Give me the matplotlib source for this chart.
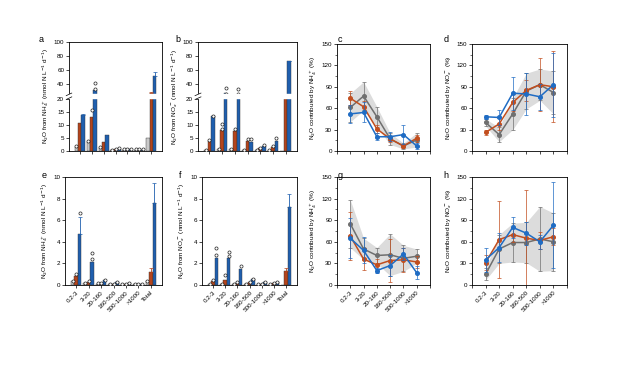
import numpy as np
import matplotlib

matplotlib.use("Agg")
import matplotlib.pyplot as plt

plt.rcParams["font.family"] = ["Liberation Sans", "DejaVu Sans"]
plt.rcParams["font.size"] = 5

# ---- data ----
size_bars = ["0.2-3", "3-20", "20-160", "160-500", "500-1000", ">1000", "Total"]
size_lines = ["0.2-3", "3-20", "20-160", "160-500", "500-1000", ">1000"]

# bar panels: gray, orange, blue series
a_gray = [1.6, 3.5, 1.3, 0.3, 0.5, 0.5, 5.0]
a_orange = [10.5, 12.8, 3.5, 0.8, 0.8, 0.6, 28.0]
a_blue = [13.8, 32.0, 6.2, 0.9, 0.6, 0.5, 52.5]
a_err = {(1, 6): 1.5, (2, 6): 5.5, (2, 0): 0.4}
a_dots = [(0, 0, 1.8), (1, 0, 3.8), (1, 1, 15.7), (1, 2, 42), (1, 2, 33), (2, 0, 1.5),
          (3, 0, 0.5), (3, 1, 0.9), (3, 2, 1.0), (4, 0, 0.6), (4, 1, 0.8), (4, 2, 0.7),
          (5, 0, 0.6), (5, 1, 0.6), (5, 2, 0.6)]

b_gray = [0.3, 0.8, 0.8, 0.5, 0.3, 0.5, 0.0]
b_orange = [4.0, 8.0, 7.5, 4.0, 1.0, 1.5, 25.0]
b_blue = [13.3, 28.5, 27.0, 3.5, 2.0, 3.8, 72.5]
b_err = {(2, 6): 1.0}
b_dots = [(0, 0, 0.4), (0, 1, 4.2), (0, 2, 13.4), (1, 0, 0.8), (1, 1, 10.2), (1, 1, 8.5),
          (1, 2, 35), (1, 2, 26), (2, 0, 0.8), (2, 1, 8.4), (2, 2, 34), (2, 2, 26),
          (3, 0, 0.5), (3, 1, 4.6), (3, 2, 4.4), (4, 0, 0.3), (4, 1, 1.2), (4, 2, 2.1),
          (5, 0, 0.4), (5, 1, 1.8), (5, 2, 5.0)]

e_gray = [0.35, 0.15, 0.1, 0.05, 0.05, 0.05, 0.4]
e_orange = [0.8, 0.3, 0.2, 0.1, 0.1, 0.05, 1.25]
e_blue = [4.7, 2.15, 0.45, 0.25, 0.2, 0.1, 7.6]
e_err = {(2, 0): 1.6, (1, 6): 0.3, (2, 6): 1.8}
e_dots = [(0, 0, 0.4), (0, 1, 1.05), (0, 2, 6.7), (1, 0, 0.2), (1, 1, 0.4), (1, 2, 2.4),
          (1, 2, 3.0), (2, 0, 0.15), (2, 1, 0.2), (2, 2, 0.45), (3, 0, 0.1), (3, 1, 0.12),
          (3, 2, 0.25), (4, 0, 0.1), (4, 1, 0.1), (4, 2, 0.2), (5, 0, 0.1), (5, 1, 0.1),
          (5, 2, 0.1), (6, 0, 0.4)]

f_gray = [0.05, 0.05, 0.05, 0.1, 0.05, 0.05, 0.0]
f_orange = [0.4, 0.5, 0.3, 0.25, 0.1, 0.15, 1.3]
f_blue = [2.5, 2.5, 1.5, 0.6, 0.3, 0.25, 7.2]
f_err = {(1, 6): 0.3, (2, 6): 1.2}
f_dots = [(0, 0, 0.1), (0, 1, 0.45), (0, 2, 2.8), (0, 2, 3.4), (1, 0, 0.1), (1, 1, 0.9),
          (1, 2, 2.7), (1, 2, 3.1), (2, 0, 0.1), (2, 1, 0.3), (2, 2, 1.8), (3, 0, 0.1),
          (3, 1, 0.3), (3, 2, 0.6), (4, 0, 0.1), (4, 1, 0.1), (4, 2, 0.3), (5, 0, 0.1),
          (5, 1, 0.15), (5, 2, 0.25)]

# line panels: mean and sd per series
c_gray, c_gray_sd = [61, 77, 48, 17, 7, 15.5], [20, 20, 14, 8, 4, 10]
c_orange, c_orange_sd = [74, 62, 31, 17, 7, 18], [10, 8, 6, 4, 3, 5]
c_blue, c_blue_sd = [52, 54, 20, 20, 23, 7], [13, 14, 5, 6, 13, 4]

d_gray, d_gray_sd = [40, 23, 52, 84, 93, 82], [5, 10, 22, 25, 22, 30]
d_orange, d_orange_sd = [26, 38, 68, 85, 93, 90], [4, 8, 12, 15, 37, 50]
d_blue, d_blue_sd = [48, 47, 81, 80, 76, 93], [3, 10, 23, 30, 18, 45]

g_gray, g_gray_sd = [85, 50, 41, 42, 37, 40], [33, 15, 11, 29, 18, 10]
g_orange, g_orange_sd = [68, 36, 28, 34, 35, 32], [33, 15, 8, 30, 17, 8]
g_blue, g_blue_sd = [65, 48, 20, 27, 43, 17], [28, 18, 4, 15, 8, 9]

h_gray, h_gray_sd = [15, 50, 59, 59, 64, 60], [8, 20, 27, 28, 45, 40]
h_orange, h_orange_sd = [31, 63, 70, 65, 62, 67], [10, 53, 10, 67, 12, 12]
h_blue, h_blue_sd = [35, 52, 80, 72, 60, 83], [17, 20, 15, 16, 10, 60]

BAR_COLORS = ["#c9c9c9", "#b4441c", "#1f5fae"]
LINE_COLORS = ["#6f6f6f", "#c24e1e", "#1f6cc4"]

W, H = 618, 370
fig = plt.figure(figsize=(W / 100, H / 100), dpi=100)


def px_axes(l, t, r, b):
    return fig.add_axes([l / W, 1 - b / H, (r - l) / W, (b - t) / H])


def style(ax):
    for s in ax.spines.values():
        s.set_linewidth(0.6)
    ax.tick_params(length=2, width=0.5, pad=1.5, labelsize=4.5)


# broken y axis: 0-20 stretched, 20-100 compressed
def fwd(y):
    y = np.asarray(y, dtype=float)
    return np.where(y <= 20, y, 20 + (y - 20) * 0.27)


def inv(y):
    y = np.asarray(y, dtype=float)
    return np.where(y <= 20, y, 20 + (y - 20) / 0.27)


def bar_panel(ax, series, errs, dots, ylabel, broken, show_labels):
    x = np.arange(len(size_bars))
    w = 0.28
    for k, vals in enumerate(series):
        xs = x + (k - 1) * w
        ax.bar(xs, vals, w, color=BAR_COLORS[k], edgecolor="#333333", linewidth=0.3, zorder=2)
    for (k, i), e in errs.items():
        ax.errorbar(i + (k - 1) * w, series[k][i], yerr=[[0], [e]], fmt="none",
                    ecolor=BAR_COLORS[k], elinewidth=0.6, capsize=1.2, capthick=0.5, zorder=3)
    for i, k, v in dots:
        ax.scatter(i + (k - 1) * w, v, s=5, facecolor="white", edgecolor="#222222",
                   linewidth=0.5, zorder=4)
    ax.set_xlim(-0.9, 6.9)
    ax.set_xticks(x)
    if show_labels:
        ax.set_xticklabels(size_bars, rotation=45, ha="right", rotation_mode="anchor")
    else:
        ax.set_xticklabels([])
    if broken:
        ax.set_yscale("function", functions=(fwd, inv))
        ax.set_ylim(0, 100)
        ax.set_yticks([0, 5, 10, 15, 20, 40, 60, 80, 100])
        ax.axhspan(20.6, 26, color="white", zorder=5)
        top = float(fwd(100))
        for v in (20.6, 26):
            yy = float(fwd(v)) / top
            ax.plot([-0.03, 0.03], [yy - 0.012, yy + 0.012], color="black", lw=0.5,
                    transform=ax.transAxes, clip_on=False, zorder=6)
    else:
        ax.set_ylim(0, 10)
        ax.set_yticks([0, 2, 4, 6, 8, 10])
    ax.set_ylabel(ylabel, fontsize=4.6, labelpad=2)


def line_panel(ax, series, sds, ylabel, show_labels):
    x = np.arange(len(size_lines))
    g, gsd = np.array(series[0]), np.array(sds[0])
    ax.fill_between(x, g - gsd, g + gsd, color="#dcdcdc", lw=0, zorder=1)
    for k in (0, 1, 2):
        ax.errorbar(x, series[k], yerr=sds[k], color=LINE_COLORS[k], lw=1.1, marker="o",
                    ms=2.6, elinewidth=0.5, capsize=1.2, capthick=0.5, zorder=3 + k)
    ax.set_xlim(-1, 6)
    ax.set_ylim(0, 150)
    ax.set_yticks(np.arange(0, 151, 30))
    ax.set_yticks(np.arange(0, 151, 15), minor=True)
    ax.set_xticks(np.arange(-1, 7))
    labels = [""] + size_lines + [""] if show_labels else [""] * 8
    ax.set_xticklabels(labels, rotation=45, ha="right", rotation_mode="anchor")
    ax.tick_params(which="minor", length=1.2, width=0.4)
    ax.set_ylabel(ylabel, fontsize=4.6, labelpad=2)


lab_nh4 = "N$_2$O from NH$_4^+$ (nmol N L$^{-1}$ d$^{-1}$)"
lab_nox = "N$_2$O from NO$_x^-$ (nmol N L$^{-1}$ d$^{-1}$)"
lab_cnh4 = "N$_2$O contributed by NH$_4^+$ (%)"
lab_cnox = "N$_2$O contributed by NO$_x^-$ (%)"

ax_a = px_axes(69, 42, 162, 151)
ax_b = px_axes(198, 42, 297, 151)
ax_c = px_axes(337, 44, 430, 151)
ax_d = px_axes(472, 44, 567, 151)
ax_e = px_axes(65, 177, 162, 285)
ax_f = px_axes(202, 177, 297, 285)
ax_g = px_axes(337, 177, 430, 285)
ax_h = px_axes(472, 177, 567, 285)

bar_panel(ax_a, [a_gray, a_orange, a_blue], a_err, a_dots, lab_nh4, True, False)
bar_panel(ax_b, [b_gray, b_orange, b_blue], b_err, b_dots, lab_nox, True, False)
bar_panel(ax_e, [e_gray, e_orange, e_blue], e_err, e_dots, lab_nh4, False, True)
bar_panel(ax_f, [f_gray, f_orange, f_blue], f_err, f_dots, lab_nox, False, True)
line_panel(ax_c, [c_gray, c_orange, c_blue], [c_gray_sd, c_orange_sd, c_blue_sd], lab_cnh4, False)
line_panel(ax_d, [d_gray, d_orange, d_blue], [d_gray_sd, d_orange_sd, d_blue_sd], lab_cnox, False)
line_panel(ax_g, [g_gray, g_orange, g_blue], [g_gray_sd, g_orange_sd, g_blue_sd], lab_cnh4, True)
line_panel(ax_h, [h_gray, h_orange, h_blue], [h_gray_sd, h_orange_sd, h_blue_sd], lab_cnox, True)

for ax in (ax_a, ax_b, ax_c, ax_d, ax_e, ax_f, ax_g, ax_h):
    style(ax)

for letter, (lx, ly) in zip("abcdefgh", [(41, 39), (178, 39), (340, 39), (446, 39),
                                        (44, 175), (180, 175), (340, 175), (446, 175)]):
    fig.text(lx / W, 1 - ly / H, letter, fontsize=6.5, ha="center", va="center")

fig.savefig("out.png", dpi=100)
